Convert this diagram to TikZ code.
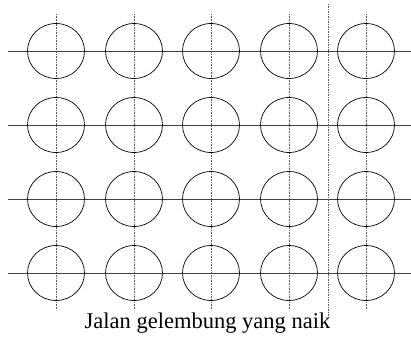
\documentclass[tikz,border=0pt]{standalone}
\usepackage{fontspec}
\setmainfont{Liberation Serif}
\usetikzlibrary{shapes.geometric}
\begin{document}
\begin{tikzpicture}[x=1pt, y=-1pt]
\useasboundingbox (0,0) rectangle (411,337);
\foreach \c/\x in {1/56,2/134,3/211,4/289,5/366} {
  \coordinate (top\c) at (\x,14);
  \coordinate (bot\c) at (\x,310);
  \draw[densely dotted, gray!70!black, line width=0.6pt] (top\c) -- (bot\c);
}
\foreach \r/\y in {1/51,2/125,3/199,4/273} {
  \coordinate (left\r) at (8,\y);
  \coordinate (right\r) at (411,\y);
  \draw[gray!50!black, line width=1pt] (left\r) -- (right\r);
  \foreach \c/\x in {1/56,2/134,3/211,4/289,5/366} {
    \node[draw, ellipse, line width=0.7pt, minimum width=57pt, minimum height=55pt, inner sep=0pt] (b\r\c) at (\x,\y) {};
  }
}
\coordinate (cuttop) at (328,4);
\coordinate (cutbot) at (328,318);
\draw[gray!70!black, line width=0.6pt, dash pattern=on 1.5pt off 1pt] (cuttop) -- (cutbot);
\node[font=\fontsize{22.5}{24}\selectfont, inner sep=0pt, anchor=base] (label) at (207.5,328) {Jalan gelembung yang naik};
\end{tikzpicture}
\end{document}
